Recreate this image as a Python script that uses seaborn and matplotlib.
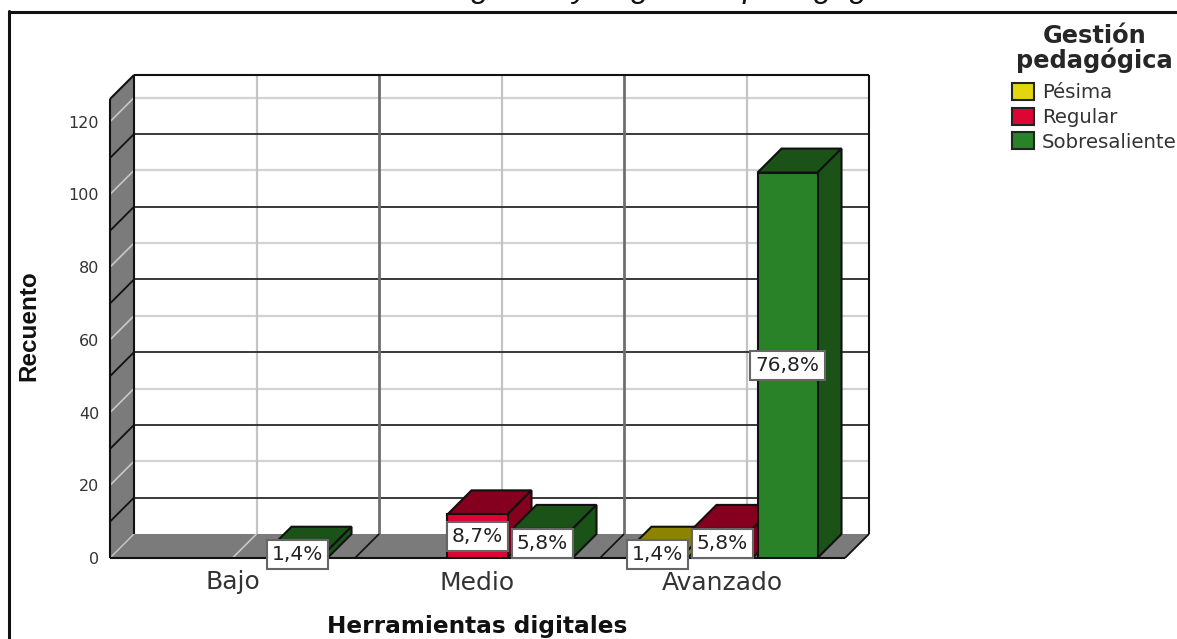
import matplotlib
matplotlib.use("Agg")
import matplotlib.pyplot as plt
from matplotlib.colors import to_hex
from matplotlib.lines import Line2D
from matplotlib.patches import Patch, Polygon
import pandas as pd
import seaborn as sns

categories = ["Bajo", "Medio", "Avanzado"]
levels = ["Pésima", "Regular", "Sobresaliente"]
pesima = [0, 0, 2]
regular = [0, 12, 8]
sobresaliente = [2, 8, 106]
y_ticks = [0, 20, 40, 60, 80, 100, 120]
minor_lines = [10, 30, 50, 70, 90, 110]
title_text = "Herramientas digitales y la gestión pedagógica"

front_colors = {"Pésima": "#e2d70f", "Regular": "#dc0533", "Sobresaliente": "#2a8228"}
dark_colors = {"#e2d70f": "#8c8300", "#dc0533": "#85001e", "#2a8228": "#1b5218"}
WALL = "#7b7b7b"
W, H = 1177, 639

sns.set_theme(style="white", rc={"font.family": ["DejaVu Sans"]})
fig = plt.figure(figsize=(W / 100, H / 100), dpi=100, facecolor="white")
ax = fig.add_axes([110 / W, (H - 558) / H, 735 / W, 459 / H])
ax.patch.set_alpha(0)

frames = []
for name, vals in zip(levels, [pesima, regular, sobresaliente]):
    frames.append(pd.DataFrame({"cat": categories, "nivel": name, "n": vals}))
df = pd.concat(frames)
total = df["n"].sum()
df = df[df["n"] > 0]

sns.barplot(data=df, x="cat", y="n", hue="nivel", order=categories, hue_order=levels,
            palette=front_colors, saturation=1, width=0.796, gap=0.077, edgecolor="#111111",
            linewidth=1.5, legend=False, ax=ax, zorder=5)
bars = [b for b in ax.patches if b.get_height() > 0]
bars.sort(key=lambda b: b.get_x())

ymax = 459 / 3.636
ax.set_xlim(-0.5, 2.5)
ax.set_ylim(0, ymax)
dx = 24 / 245
dy = 24 / 3.636
x0, x1 = -0.5, 2.5
nc = dict(clip_on=False)

# left wall and floor
ax.add_patch(Polygon([(x0, 0), (x0 + dx, dy), (x0 + dx, ymax + dy), (x0, ymax)], fc=WALL, ec="none", zorder=1, **nc))
ax.add_patch(Polygon([(x0, 0), (x1, 0), (x1 + dx, dy), (x0 + dx, dy)], fc=WALL, ec="none", zorder=1, **nc))

def seg(xs, ys, color, lw, z=2):
    ax.add_line(Line2D(xs, ys, color=color, lw=lw, zorder=z, clip_on=False, solid_capstyle="butt"))

for v in y_ticks[1:]:
    seg([x0 + dx, x1 + dx], [v + dy, v + dy], "#d2d2d2", 1.6)
    seg([x0, x0 + dx], [v, v + dy], "#c8c8c8", 1.2)
for v in minor_lines:
    seg([x0 + dx, x1 + dx], [v + dy, v + dy], "#2a2a2a", 1.3, 2.2)
    seg([x0, x0 + dx], [v, v + dy], "#111111", 1.3, 2.2)
for i in range(3):
    seg([i + dx, i + dx], [dy, ymax + dy], "#c4c4c4", 1.6)
    seg([i, i + dx], [0, dy], "#c8c8c8", 1.2)
seg([x0, x0 + dx], [0, dy], "#c8c8c8", 1.0)
for b in [0.5, 1.5]:
    seg([b + dx, b + dx], [dy, ymax + dy], "#6e6e6e", 2.0, 2.4)
    seg([b, b + dx], [0, dy], "#111111", 1.2, 2.4)

# frame of the box
seg([x0 + dx, x1 + dx], [ymax + dy, ymax + dy], "#111111", 1.5, 3)
seg([x0 + dx, x0 + dx], [dy, ymax + dy], "#111111", 1.5, 3)
seg([x1 + dx, x1 + dx], [dy, ymax + dy], "#111111", 1.5, 3)
seg([x0, x0], [0, ymax], "#111111", 1.5, 3)
seg([x0, x0 + dx], [ymax, ymax + dy], "#111111", 1.5, 3)
seg([x1, x1 + dx], [0, dy], "#111111", 1.3, 3)
seg([x0, x1], [0, 0], "#111111", 1.5, 3)

# bars: top and side faces follow each front face
for k, b in enumerate(bars):
    z = 5 + k * 0.1
    l, r, h = b.get_x(), b.get_x() + b.get_width(), b.get_height()
    dark = dark_colors[to_hex(b.get_facecolor())]
    ax.add_patch(Polygon([(l, h), (r, h), (r + dx, h + dy), (l + dx, h + dy)], fc=dark, ec="#111111", lw=1.5, zorder=z, **nc))
    ax.add_patch(Polygon([(r, 0), (r + dx, dy), (r + dx, h + dy), (r, h)], fc=dark, ec="#111111", lw=1.5, zorder=z, **nc))
    b.set_zorder(z + 0.01)

for b in bars:
    pct = f"{b.get_height() / total * 100:.1f}%".replace(".", ",")
    ax.text(b.get_x() + b.get_width() / 2, b.get_height() / 2, pct, ha="center", va="center",
            fontsize=14.5, color="#222222", zorder=20, clip_on=False,
            bbox=dict(boxstyle="square,pad=0.25", fc="white", ec="#666666", lw=1.5))

ax.set_yticks(y_ticks)
ax.set_yticklabels([str(t) for t in y_ticks], fontsize=11.5, color="#333333")
ax.tick_params(axis="y", length=0, pad=7.8)
ax.tick_params(axis="x", length=0, pad=9, labelsize=18, labelcolor="#333333")
for s in ax.spines.values():
    s.set_visible(False)
ax.set_xlabel("Herramientas digitales", fontsize=16.65, fontweight="bold", color="#111111")
ax.xaxis.set_label_coords((477 - 110) / 735, -(627 - 558) / 459, transform=ax.transAxes)
ax.xaxis.label.set_va("center")
ax.set_ylabel("Recuento", fontsize=17.5, fontweight="bold", fontfamily="Liberation Sans", color="#111111")
ax.yaxis.set_label_coords((29 - 110) / 735, (558 - 326) / 459, transform=ax.transAxes)
ax.yaxis.label.set_va("center")

handles = [Patch(fc=front_colors[n], ec="#222222", lw=1.5, label=n) for n in levels]
leg = ax.legend(handles=handles, title="Gestión\npedagógica", loc="upper left",
                bbox_to_anchor=(1012 / W, 1 - 24 / H), bbox_transform=fig.transFigure,
                frameon=False, fontsize=14.2, handlelength=1.12, handleheight=0.95,
                handletextpad=0.4, labelspacing=0.28, borderpad=0, borderaxespad=0,
                alignment="center",
                title_fontproperties={"weight": "bold", "size": 17.4})
leg.get_title().set_multialignment("center")
leg.get_title().set_linespacing(0.98)
leg._legend_box.sep = 7
for t in leg.get_texts():
    t.set_color("#333333")

fig.add_artist(Line2D([9 / W, 9 / W], [0, 1 - 11 / H], color="#111111", lw=2.2, transform=fig.transFigure))
fig.add_artist(Line2D([9 / W, 1], [1 - 11.5 / H, 1 - 11.5 / H], color="#111111", lw=2.2, transform=fig.transFigure))
fig.text(577 / W, 1 + 2.7 / H, title_text, ha="center", va="baseline", fontsize=23,
         fontstyle="italic", fontfamily="Liberation Sans", color="#111111")

fig.savefig("out.png", dpi=100)
